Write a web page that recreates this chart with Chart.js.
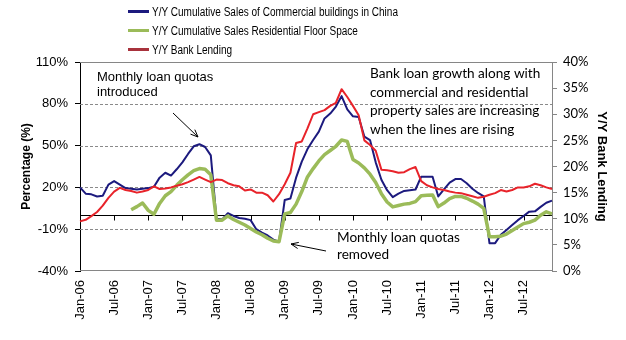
<!DOCTYPE html>
<html>
<head>
<meta charset="utf-8">
<script src="https://cdn.jsdelivr.net/npm/chart.js@4.4.1/dist/chart.umd.min.js"></script>
<style>
  body { margin: 0; background: #fff; }
  #wrap { position: relative; width: 626px; height: 340px; }
  #legend { position: absolute; left: 128px; top: 2px; font: 12px "Liberation Sans", Arial, sans-serif; color: #000; }
  .item { display: flex; align-items: center; height: 19px; white-space: nowrap; }
  .swatch { width: 21px; height: 3px; margin-right: 3px; }
  .label { display: inline-block; transform: scaleX(0.835); transform-origin: left center; }
</style>
</head>
<body>
<div id="wrap">
  <canvas id="chart" width="626" height="340"></canvas>
  <div id="legend"></div>
</div>
<script>
// Monthly axis, Jan-06 .. Dec-12
const monthNames = ["Jan", "Feb", "Mar", "Apr", "May", "Jun", "Jul", "Aug", "Sep", "Oct", "Nov", "Dec"];
const years = ["06", "07", "08", "09", "10", "11", "12"];
const months = [];
years.forEach(yr => monthNames.forEach(m => months.push(m + "-" + yr)));

// Y/Y cumulative sales of commercial buildings (%), left axis
const commercialSales = [
  20, 15.5, 15, 13.5, 14, 22, 24.5, 22, 19.5, 19, 18.5, 19,
  19.5, 20.5, 27, 30.5, 28.5, 33, 38, 44, 49.5, 51, 49, 43,
  -2.5, -3, 1.5, -0.5, -2, -2.5, -3.5, -10, -12.5, -14.5, -17.5, -19,
  11, 12, 27, 38.5, 47.5, 54, 60, 69.5, 73, 78, 85.5, 76,
  71, 70.5, 56.5, 54, 38, 25.5, 18, 13, 15.5, 17.5, 18, 18.5,
  27.7, 27.7, 27.7, 13.5, 18.5, 23.5, 26, 26, 23, 19, 16, 13.5,
  -20, -20, -14, -10.5, -7, -3.5, -0.5, 2.6, 2.8, 6, 9, 10.5
];

// Y/Y cumulative sales of residential floor space (%), left axis
const residentialSpace = [
  null, null, null, null, null, null, null, null, null, 4, 6.2, 8.8,
  3.5, 0.7, 8.5, 14, 17, 21.5, 25.5, 29, 32, 33.5, 33, 29,
  -3.5, -3.5, -0.5, -3, -5, -7, -9.5, -12, -14, -16.5, -18.5, -19,
  1, 2, 8, 17, 27.5, 33.5, 39, 43.5, 46.5, 49.5, 54, 53,
  40, 37.5, 34, 29.5, 23.5, 15.5, 9.5, 6, 7, 8, 8.5, 9.8,
  14, 14.3, 14.6, 6.2, 8.8, 12, 13.5, 13.5, 12.2, 10.2, 8, 5,
  -15.4, -15.4, -15, -13.5, -11, -8.5, -6, -5, -3.5, 0, 2.5, 1
];

// Y/Y bank lending (%), right axis
const bankLending = [
  9.5, 9.8, 10.5, 11.3, 12.5, 14, 15.2, 15.9, 15.5, 15.3, 15, 15.2,
  15.5, 16.2, 15.7, 15.8, 16, 16.3, 16.6, 17, 17.5, 18, 17.5, 17,
  17.5, 17.4, 16.8, 16.4, 16.2, 15.4, 15.6, 15, 15, 14.5, 13.3, 14.7,
  16.6, 18.8, 24.5, 24.8, 27.3, 30, 30.4, 30.8, 31.6, 32.2, 34.8, 33.3,
  31.6, 29.8, 25, 24.1, 23, 19.4, 19.3, 19.1, 18.8, 18.9, 19.5, 19.9,
  17.2, 16.4, 16, 15.7, 15.5, 15.2, 15, 14.9, 14.6, 14.3, 14, 14.2,
  14.6, 14.9, 15.5, 15.2, 15.5, 16, 16, 16.2, 16.7, 16.4, 16, 15.7
];

const seriesNames = [
  "Y/Y Cumulative Sales of Commercial buildings in China",
  "Y/Y Cumulative Sales Residential Floor Space",
  "Y/Y Bank Lending"
];
const lineColors = ["#1c1a7e", "#9bbb59", "#e8232a"];
const legendColors = ["#1c1a7e", "#9bbb59", "#a8323c"];

const arial = "'Liberation Sans', Arial, sans-serif";
const calibriLike = "Lato, 'Open Sans', sans-serif";

// gridlines, plot frame and the category axis crossing at 0%
const chartFrame = {
  id: "chartFrame",
  beforeDatasetsDraw(chart) {
    const { ctx, chartArea: a, scales } = chart;
    const y = scales.y, x = scales.x;
    ctx.save();
    ctx.lineWidth = 1;
    ctx.strokeStyle = "#8a8a8a";
    ctx.setLineDash([3, 2]);
    y.ticks.forEach(t => {
      if (t.value <= y.min || t.value >= y.max) return;
      const py = Math.round(y.getPixelForValue(t.value)) + 0.5;
      ctx.beginPath();
      ctx.moveTo(a.left, py);
      ctx.lineTo(a.right, py);
      ctx.stroke();
    });
    ctx.setLineDash([]);
    ctx.strokeStyle = "#868686";
    ctx.beginPath();
    ctx.moveTo(a.left, Math.round(a.top) + 0.5);
    ctx.lineTo(a.right, Math.round(a.top) + 0.5);
    ctx.moveTo(a.left, Math.round(a.bottom) - 0.5);
    ctx.lineTo(a.right, Math.round(a.bottom) - 0.5);
    ctx.stroke();

    const zy = Math.round(y.getPixelForValue(0)) + 0.5;
    ctx.strokeStyle = "#000";
    ctx.beginPath();
    ctx.moveTo(a.left, zy);
    ctx.lineTo(a.right, zy);
    for (let i = 6; i < months.length; i += 6) {
      const px = Math.round(x.getPixelForValue(i)) + 0.5;
      ctx.moveTo(px, zy);
      ctx.lineTo(px, zy + 5);
    }
    ctx.stroke();
    ctx.restore();
  }
};

function arrow(ctx, x1, y1, x2, y2) {
  const ang = Math.atan2(y2 - y1, x2 - x1);
  ctx.beginPath();
  ctx.moveTo(x1, y1);
  ctx.lineTo(x2, y2);
  ctx.stroke();
  ctx.beginPath();
  ctx.moveTo(x2, y2);
  ctx.lineTo(x2 - 8 * Math.cos(ang - 0.4), y2 - 8 * Math.sin(ang - 0.4));
  ctx.moveTo(x2, y2);
  ctx.lineTo(x2 - 8 * Math.cos(ang + 0.4), y2 - 8 * Math.sin(ang + 0.4));
  ctx.stroke();
}

// text notes and arrows over the plot
const notes = {
  id: "notes",
  afterDraw(chart) {
    const ctx = chart.ctx;
    ctx.save();
    ctx.fillStyle = "#000";
    ctx.textBaseline = "middle";
    ctx.font = "13px " + arial;
    ctx.fillText("Monthly loan quotas", 97, 77);
    ctx.fillText("introduced", 97, 92);

    ctx.font = "13.6px " + calibriLike;
    ctx.fillText("Monthly loan quotas", 337, 238);
    ctx.fillText("removed", 337, 255);

    const lines = [
      "Bank loan growth along with",
      "commercial and residential",
      "property sales are increasing",
      "when the lines are rising"
    ];
    lines.forEach((t, i) => ctx.fillText(t, 370, 74 + i * 18.4));

    ctx.strokeStyle = "#000";
    ctx.lineWidth = 1;
    arrow(ctx, 173, 113, 198, 137);
    arrow(ctx, 326, 251, 291, 244);
    ctx.restore();
  }
};

const chart = new Chart(document.getElementById("chart"), {
  type: "line",
  data: {
    labels: months,
    datasets: [
      { label: seriesNames[0], data: commercialSales, yAxisID: "y", borderColor: lineColors[0], borderWidth: 2, order: 3 },
      { label: seriesNames[1], data: residentialSpace, yAxisID: "y", borderColor: lineColors[1], borderWidth: 3.5, order: 2 },
      { label: seriesNames[2], data: bankLending, yAxisID: "y1", borderColor: lineColors[2], borderWidth: 2, order: 1 }
    ]
  },
  options: {
    responsive: false,
    animation: false,
    layout: { padding: { top: 62, left: 0, right: 0, bottom: 0 } },
    elements: { point: { radius: 0 }, line: { tension: 0, borderJoinStyle: "round" } },
    plugins: { legend: { display: false }, tooltip: { enabled: false } },
    scales: {
      x: {
        type: "category",
        offset: false,
        grid: { display: false, drawTicks: false },
        border: { display: false },
        ticks: {
          autoSkip: false,
          maxRotation: 90,
          minRotation: 90,
          padding: 9,
          color: "#000",
          font: { family: arial, size: 13 },
          callback: (v, i) => (i % 6 === 0 ? months[i] : "")
        },
        afterFit: s => { s.height = 69; }
      },
      y: {
        position: "left",
        min: -40,
        max: 110,
        ticks: { stepSize: 30, padding: 7, color: "#000", font: { family: arial, size: 13 }, callback: v => v + "%" },
        grid: { drawOnChartArea: false, tickLength: 5, tickColor: "#000" },
        border: { color: "#000" },
        title: { display: true, text: "Percentage (%)", color: "#000", font: { family: arial, size: 12, weight: "bold" }, padding: { top: 19 } },
        afterFit: s => { s.width = 80; }
      },
      y1: {
        position: "right",
        min: 0,
        max: 40,
        ticks: { stepSize: 5, padding: 6, color: "#000", font: { family: calibriLike, size: 13 }, callback: v => v + "%" },
        grid: { drawOnChartArea: false, tickLength: 5, tickColor: "#868686" },
        border: { color: "#868686" },
        title: { display: true, text: "Y/Y Bank Lending", color: "#000", font: { family: arial, size: 13, weight: "bold" }, padding: { top: 17 } },
        afterFit: s => { s.width = 74; }
      }
    }
  },
  plugins: [chartFrame, notes]
});

// legend: one series per row
const legendEl = document.getElementById("legend");
chart.data.datasets.forEach((ds, i) => {
  const row = document.createElement("div");
  row.className = "item";
  const sw = document.createElement("span");
  sw.className = "swatch";
  sw.style.background = legendColors[i];
  const txt = document.createElement("span");
  txt.className = "label";
  txt.textContent = ds.label;
  row.appendChild(sw);
  row.appendChild(txt);
  legendEl.appendChild(row);
});
</script>
</body>
</html>
